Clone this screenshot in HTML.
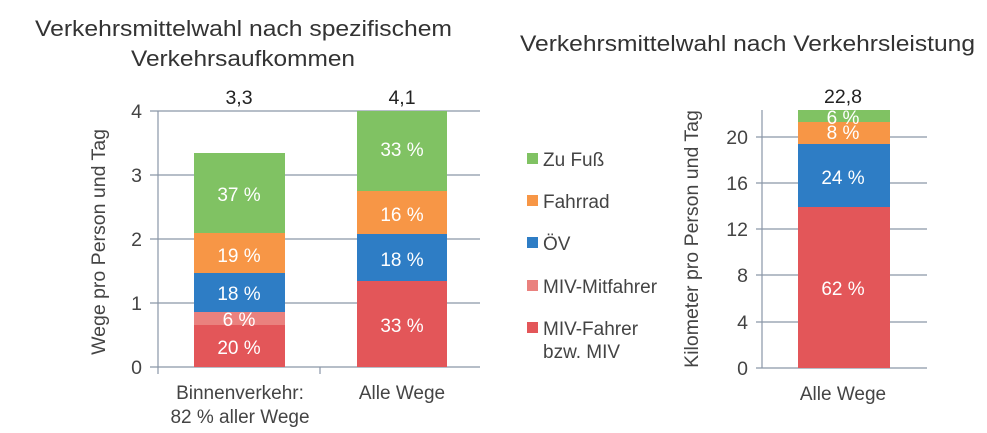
<!DOCTYPE html>
<html><head><meta charset="utf-8"><style>
body{margin:0;background:#fff;}
svg text{font-family:"Liberation Sans",sans-serif;}
</style></head><body>
<svg width="987" height="428" xmlns="http://www.w3.org/2000/svg">
<g fill="#333" font-size="22">
<text x="35" y="36" textLength="417" lengthAdjust="spacingAndGlyphs">Verkehrsmittelwahl nach spezifischem</text>
<text x="131" y="66" textLength="224" lengthAdjust="spacingAndGlyphs">Verkehrsaufkommen</text>
<text x="520" y="51" textLength="455" lengthAdjust="spacingAndGlyphs">Verkehrsmittelwahl nach Verkehrsleistung</text>
</g>
<g stroke="#8a96a8" stroke-width="1.2">
<line x1="150" y1="111" x2="480" y2="111"/><line x1="150" y1="175" x2="480" y2="175"/>
<line x1="150" y1="239" x2="480" y2="239"/><line x1="150" y1="303" x2="480" y2="303"/>
<line x1="150" y1="367" x2="480" y2="367"/>
<line x1="158" y1="111" x2="158" y2="374"/><line x1="320" y1="367" x2="320" y2="374"/>
</g>
<rect x="194" y="325" width="91" height="42" fill="#e35659"/>
<rect x="194" y="312" width="91" height="13" fill="#ea817e"/>
<rect x="194" y="273" width="91" height="39" fill="#2e7dc5"/>
<rect x="194" y="233" width="91" height="40" fill="#f79646"/>
<rect x="194" y="153" width="91" height="80" fill="#80c263"/>
<rect x="357" y="281" width="90" height="86" fill="#e35659"/>
<rect x="357" y="234" width="90" height="47" fill="#2e7dc5"/>
<rect x="357" y="191" width="90" height="43" fill="#f79646"/>
<rect x="357" y="111" width="90" height="80" fill="#80c263"/>
<g fill="#fff" font-size="19" text-anchor="middle">
<text x="239" y="354">20 %</text><text x="239" y="326">6 %</text><text x="239" y="300">18 %</text>
<text x="239" y="262">19 %</text><text x="239" y="201">37 %</text>
<text x="402" y="332">33 %</text><text x="402" y="266">18 %</text><text x="402" y="221">16 %</text><text x="402" y="156">33 %</text>
</g>
<g fill="#444" font-size="19.5">
<text x="239" y="104" text-anchor="middle" fill="#222">3,3</text>
<text x="402" y="104" text-anchor="middle" fill="#222">4,1</text>
<g text-anchor="end"><text x="142" y="374">0</text><text x="142" y="310">1</text><text x="142" y="246">2</text><text x="142" y="182">3</text><text x="142" y="118">4</text></g>
<text transform="translate(105,242) rotate(-90)" text-anchor="middle">Wege pro Person und Tag</text>
<g font-size="19" text-anchor="middle"><text x="240" y="399">Binnenverkehr:</text><text x="240" y="423">82 % aller Wege</text><text x="402" y="399">Alle Wege</text></g>
</g>
<rect x="527" y="153" width="11" height="11" fill="#80c263"/>
<rect x="527" y="195" width="11" height="11" fill="#f79646"/>
<rect x="527" y="237" width="11" height="11" fill="#2e7dc5"/>
<rect x="527" y="280" width="11" height="11" fill="#ea817e"/>
<rect x="527" y="322" width="11" height="11" fill="#e35659"/>
<g fill="#444" font-size="19">
<text x="543" y="166">Zu Fuß</text><text x="543" y="208">Fahrrad</text><text x="543" y="250">ÖV</text>
<text x="543" y="293">MIV-Mitfahrer</text><text x="543" y="335">MIV-Fahrer</text><text x="543" y="358">bzw. MIV</text>
</g>
<g stroke="#8a96a8" stroke-width="1.2">
<line x1="756" y1="137" x2="927" y2="137"/><line x1="756" y1="183" x2="927" y2="183"/>
<line x1="756" y1="229" x2="927" y2="229"/><line x1="756" y1="275" x2="927" y2="275"/>
<line x1="756" y1="322" x2="927" y2="322"/><line x1="756" y1="368" x2="927" y2="368"/>
<line x1="762" y1="110" x2="762" y2="368"/>
</g>
<rect x="798" y="207" width="92" height="161" fill="#e35659"/>
<rect x="798" y="144" width="92" height="63" fill="#2e7dc5"/>
<rect x="798" y="122" width="92" height="22" fill="#f79646"/>
<rect x="798" y="110" width="92" height="12" fill="#80c263"/>
<g fill="#fff" font-size="19" text-anchor="middle">
<text x="843" y="295">62 %</text><text x="843" y="184">24 %</text><text x="843" y="139">8 %</text><text x="843" y="124">6 %</text>
</g>
<g fill="#444" font-size="19.5">
<text x="843" y="103" text-anchor="middle" fill="#222">22,8</text>
<g text-anchor="end"><text x="748" y="375">0</text><text x="748" y="329">4</text><text x="748" y="282">8</text><text x="748" y="236">12</text><text x="748" y="190">16</text><text x="748" y="144">20</text></g>
<text transform="translate(698,239) rotate(-90)" text-anchor="middle">Kilometer pro Person und Tag</text>
<text x="843" y="400" text-anchor="middle" font-size="19">Alle Wege</text>
</g>
</svg>
</body></html>
